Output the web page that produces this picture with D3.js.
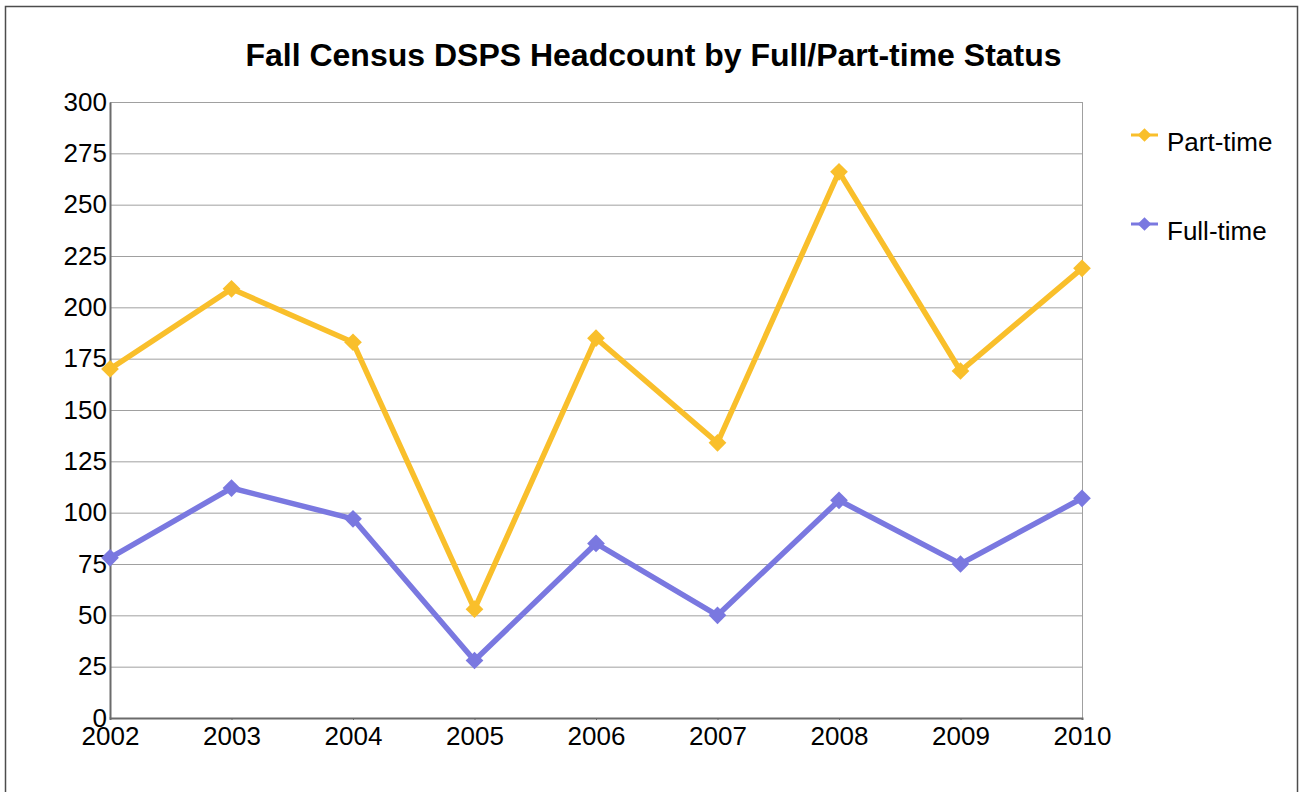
<!DOCTYPE html>
<html>
<head>
<meta charset="utf-8">
<script src="https://cdn.jsdelivr.net/npm/d3@7"></script>
<style>
  body { margin: 0; background: #fff; }
  svg { display: block; font-family: "Liberation Sans", Arial, sans-serif; }
  svg text { font-family: "Liberation Sans", Arial, sans-serif; }
</style>
</head>
<body>
<div id="chart"></div>
<script>
const years = ["2002", "2003", "2004", "2005", "2006", "2007", "2008", "2009", "2010"];
const partTime = [170, 209, 183, 53, 185, 134, 266, 169, 219];
const fullTime = [78, 112, 97, 28, 85, 50, 106, 75, 107];
const yTicks = [0, 25, 50, 75, 100, 125, 150, 175, 200, 225, 250, 275, 300];

const series = [
    { name: "Part-time", values: partTime, color: "#f9bf2b" },
    { name: "Full-time", values: fullTime, color: "#7a78e0" }
];

const width = 1304, height = 792;
const margin = { left: 110, right: 222, top: 102, bottom: 74 };

const svg = d3.select("#chart").append("svg")
    .attr("width", width)
    .attr("height", height);

// outer frame (bottom edge runs past the window)
svg.append("rect")
    .attr("x", 5.5).attr("y", 6.5)
    .attr("width", 1292).attr("height", 800)
    .attr("fill", "none")
    .attr("stroke", "#4d4d4d")
    .attr("stroke-width", 1.5);

svg.append("text")
    .attr("x", 653.5).attr("y", 66)
    .attr("text-anchor", "middle")
    .attr("font-size", 32)
    .attr("font-weight", "bold")
    .text("Fall Census DSPS Headcount by Full/Part-time Status");

const x = d3.scalePoint()
    .domain(years)
    .range([margin.left, width - margin.right]);

const y = d3.scaleLinear()
    .domain([0, 300])
    .range([height - margin.bottom, margin.top]);

// gridlines
svg.append("g")
    .selectAll("line")
    .data(yTicks)
    .join("line")
    .attr("x1", margin.left)
    .attr("x2", width - margin.right)
    .attr("y1", d => y(d) + 0.5)
    .attr("y2", d => y(d) + 0.5)
    .attr("stroke", "#a0a0a0")
    .attr("stroke-width", 1);

// right edge
svg.append("line")
    .attr("x1", width - margin.right + 0.5).attr("x2", width - margin.right + 0.5)
    .attr("y1", y(300)).attr("y2", y(0))
    .attr("stroke", "#a0a0a0");

// y axis
const yAxis = svg.append("g")
    .attr("transform", `translate(${margin.left},0)`)
    .call(d3.axisLeft(y).tickValues(yTicks).tickSize(0).tickPadding(3));
yAxis.select(".domain").attr("stroke", "#6b6b6b").attr("stroke-width", 2);
yAxis.selectAll("text").attr("font-size", 26).attr("fill", "#000");

// x axis
const xAxis = svg.append("g")
    .attr("transform", `translate(0,${height - margin.bottom})`)
    .call(d3.axisBottom(x).tickSize(2).tickPadding(7));
xAxis.select(".domain").attr("stroke", "#6b6b6b").attr("stroke-width", 2);
xAxis.selectAll(".tick line").attr("stroke", "#6b6b6b");
xAxis.selectAll("text").attr("font-size", 26).attr("fill", "#000");

const line = d3.line()
    .x((d, i) => x(years[i]))
    .y(d => y(d));

const diamond = d3.symbol().type(d3.symbolDiamond2).size(200);

series.forEach(s => {
    svg.append("path")
        .datum(s.values)
        .attr("d", line)
        .attr("fill", "none")
        .attr("stroke", s.color)
        .attr("stroke-width", 5.5)
        .attr("stroke-linejoin", "miter");

    svg.append("g")
        .selectAll("path")
        .data(s.values)
        .join("path")
        .attr("transform", (d, i) => `translate(${x(years[i])},${y(d)})`)
        .attr("d", diamond)
        .attr("fill", s.color);
});

// legend
const legend = svg.append("g")
    .selectAll("g")
    .data(series)
    .join("g")
    .attr("transform", (d, i) => `translate(1131,${135 + i * 89})`);

legend.append("line")
    .attr("x1", 0).attr("x2", 27)
    .attr("stroke", d => d.color)
    .attr("stroke-width", 3);

legend.append("path")
    .attr("transform", "translate(13.5,0)")
    .attr("d", d3.symbol().type(d3.symbolDiamond2).size(120))
    .attr("fill", d => d.color);

legend.append("text")
    .attr("x", 36)
    .attr("y", 15.5)
    .attr("font-size", 26)
    .text(d => d.name);
</script>
</body>
</html>
